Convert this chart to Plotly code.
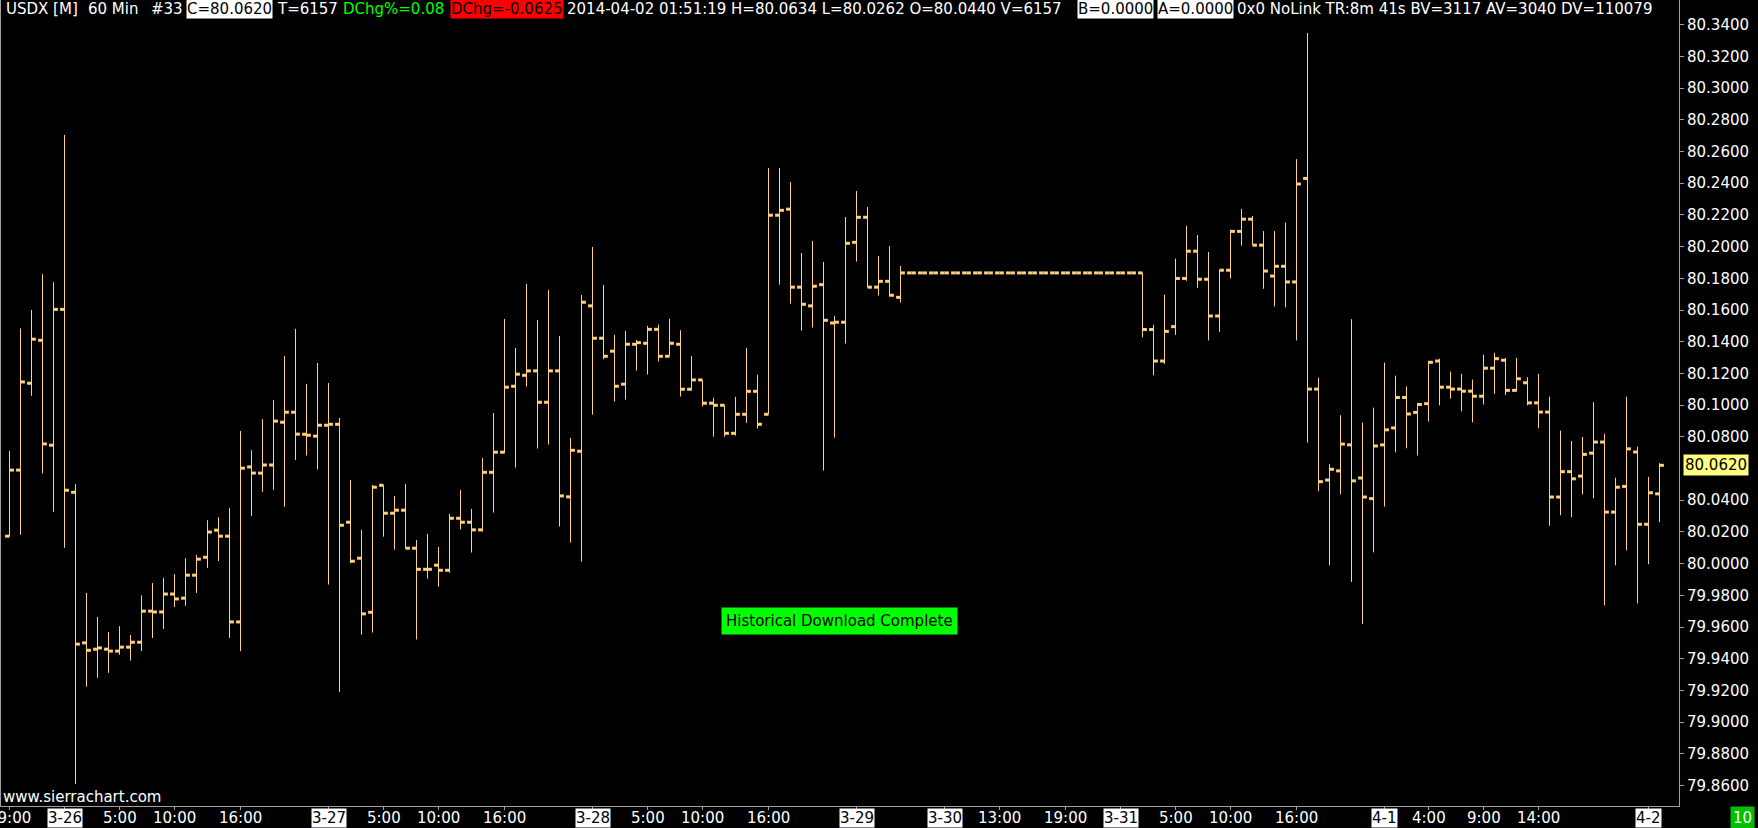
import plotly.graph_objects as go

# ---------------- data (hourly OHLC, USDX) ----------------
opens = [80.0173, 80.0590, 80.1138, 80.1409, 80.0747, 80.1604, 80.0450, 79.9500, 79.9460, 79.9460,
         79.9448, 79.9473, 79.9504, 79.9700, 79.9695, 79.9808, 79.9782, 79.9927, 80.0040, 80.0211,
         80.0173, 79.9632, 80.0610, 80.0571, 80.0622, 80.0892, 80.0955, 80.0816, 80.0804, 80.0873,
         80.0879, 80.0261, 80.0034, 79.9693, 80.0494, 80.0318, 80.0337, 80.0097, 79.9964, 79.9990,
         79.9958, 80.0286, 80.0261, 80.0213, 80.0576, 80.0703, 80.1119, 80.1188, 80.1216, 80.1018,
         80.1216, 80.0421, 80.0709, 80.1626, 80.1422, 80.1340, 80.1132, 80.1384, 80.1390, 80.1478,
         80.1308, 80.1384, 80.1100, 80.1159, 80.1012, 80.0999, 80.0822, 80.0942, 80.1087, 80.0942,
         80.2198, 80.2236, 80.1744, 80.1626, 80.1760, 80.1518, 80.1523, 80.2027, 80.2185, 80.1744,
         80.1781, 80.1680, 80.1834, 80.1834, 80.1834, 80.1834, 80.1834, 80.1834, 80.1834, 80.1834,
         80.1834, 80.1834, 80.1834, 80.1834, 80.1834, 80.1834, 80.1834, 80.1834, 80.1834, 80.1834,
         80.1834, 80.1834, 80.1834, 80.1834, 80.1477, 80.1278, 80.1495, 80.1799, 80.1971, 80.1794,
         80.1562, 80.1851, 80.2096, 80.2173, 80.2009, 80.1814, 80.1876, 80.1777, 80.2430, 80.1101,
         80.0527, 80.0585, 80.0749, 80.0540, 80.0410, 80.0749, 80.0856, 80.1048, 80.0954, 80.1009,
         80.1278, 80.1113, 80.1101, 80.1088, 80.1056, 80.1233, 80.1283, 80.1093, 80.1141, 80.1014,
         80.0956, 80.0420, 80.0580, 80.0552, 80.0697, 80.0767, 80.0325, 80.0487, 80.0704, 80.0248,
         80.0440]
highs = [80.0711, 80.1484, 80.1600, 80.1826, 80.1776, 80.2705, 80.0501, 79.9815, 79.9663, 79.9569,
         79.9605, 79.9550, 79.9800, 79.9878, 79.9910, 79.9934, 80.0035, 80.0054, 80.0274, 80.0293,
         80.0351, 80.0837, 80.0716, 80.0911, 80.1032, 80.1310, 80.1481, 80.1134, 80.1266, 80.1140,
         80.0919, 80.0528, 80.0213, 80.0496, 80.0494, 80.0427, 80.0503, 80.0149, 80.0187, 80.0105,
         80.0314, 80.0465, 80.0345, 80.0667, 80.0950, 80.1544, 80.1361, 80.1765, 80.1537, 80.1727,
         80.1436, 80.0793, 80.1695, 80.1998, 80.1758, 80.1443, 80.1468, 80.1411, 80.1500, 80.1508,
         80.1544, 80.1472, 80.1310, 80.1159, 80.1047, 80.0999, 80.1052, 80.1361, 80.1191, 80.2496,
         80.2496, 80.2408, 80.1960, 80.2036, 80.1903, 80.1563, 80.2187, 80.2351, 80.2250, 80.1941,
         80.2004, 80.1878, 80.1834, 80.1834, 80.1834, 80.1834, 80.1834, 80.1834, 80.1834, 80.1834,
         80.1834, 80.1834, 80.1834, 80.1834, 80.1834, 80.1834, 80.1834, 80.1834, 80.1834, 80.1834,
         80.1834, 80.1834, 80.1834, 80.1834, 80.1507, 80.1697, 80.1924, 80.2131, 80.2073, 80.1966,
         80.1854, 80.2106, 80.2238, 80.2193, 80.2098, 80.2098, 80.2151, 80.2552, 80.3348, 80.1173,
         80.0627, 80.0936, 80.1542, 80.0889, 80.0984, 80.1268, 80.1186, 80.1118, 80.1014, 80.1278,
         80.1293, 80.1211, 80.1198, 80.1161, 80.1318, 80.1330, 80.1298, 80.1298, 80.1176, 80.1198,
         80.1053, 80.0839, 80.0774, 80.0799, 80.1019, 80.0819, 80.0542, 80.1053, 80.0737, 80.0547,
         80.0634]
lows = [80.0173, 80.0182, 80.1059, 80.0569, 80.0327, 80.0100, 79.8610, 79.9224, 79.9279, 79.9311,
        79.9424, 79.9388, 79.9448, 79.9531, 79.9588, 79.9726, 79.9733, 79.9815, 79.9972, 80.0016,
        79.9531, 79.9448, 80.0301, 80.0453, 80.0465, 80.0359, 80.0653, 80.0682, 80.0593, 79.9868,
        79.9190, 80.0003, 79.9552, 79.9565, 80.0170, 80.0088, 80.0097, 79.9521, 79.9906, 79.9855,
        79.9943, 80.0215, 80.0070, 80.0202, 80.0322, 80.0697, 80.0606, 80.1117, 80.0726, 80.0751,
        80.0234, 80.0133, 80.0013, 80.0940, 80.1289, 80.1022, 80.1035, 80.1218, 80.1193, 80.1275,
        80.1308, 80.1054, 80.1092, 80.0991, 80.0801, 80.0801, 80.0808, 80.0888, 80.0852, 80.0942,
        80.1760, 80.1640, 80.1470, 80.1489, 80.0587, 80.0795, 80.1388, 80.1905, 80.1744, 80.1691,
        80.1685, 80.1647, 80.1834, 80.1834, 80.1834, 80.1834, 80.1834, 80.1834, 80.1834, 80.1834,
        80.1834, 80.1834, 80.1834, 80.1834, 80.1834, 80.1834, 80.1834, 80.1834, 80.1834, 80.1834,
        80.1834, 80.1834, 80.1834, 80.1428, 80.1188, 80.1260, 80.1442, 80.1784, 80.1739, 80.1408,
        80.1462, 80.1799, 80.2006, 80.2009, 80.1734, 80.1622, 80.1617, 80.1408, 80.0764, 80.0457,
        79.9989, 80.0437, 79.9884, 79.9619, 80.0071, 80.0360, 80.0702, 80.0727, 80.0682, 80.0896,
        80.0999, 80.1041, 80.0961, 80.0891, 80.1004, 80.1071, 80.1063, 80.1086, 80.0999, 80.0854,
        80.0238, 80.0305, 80.0293, 80.0437, 80.0412, 79.9737, 79.9989, 80.0083, 79.9749, 79.9996,
        80.0262]
closes = [80.0590, 80.1146, 80.1416, 80.0755, 80.1604, 80.0463, 79.9492, 79.9453, 79.9468, 79.9448,
          79.9473, 79.9504, 79.9700, 79.9695, 79.9808, 79.9777, 79.9927, 80.0028, 80.0199, 80.0173,
          79.9632, 80.0602, 80.0571, 80.0622, 80.0899, 80.0955, 80.0817, 80.0810, 80.0873, 80.0879,
          80.0242, 80.0015, 79.9683, 80.0482, 80.0318, 80.0337, 80.0097, 79.9964, 79.9964, 79.9958,
          80.0286, 80.0261, 80.0213, 80.0576, 80.0703, 80.1113, 80.1195, 80.1216, 80.1018, 80.1216,
          80.0427, 80.0715, 80.1649, 80.1422, 80.1308, 80.1119, 80.1384, 80.1394, 80.1478, 80.1308,
          80.1390, 80.1100, 80.1159, 80.1012, 80.0999, 80.0822, 80.0942, 80.1087, 80.0879, 80.2198,
          80.2229, 80.1744, 80.1636, 80.1750, 80.1535, 80.1523, 80.2021, 80.2185, 80.1744, 80.1781,
          80.1693, 80.1834, 80.1834, 80.1834, 80.1834, 80.1834, 80.1834, 80.1834, 80.1834, 80.1834,
          80.1834, 80.1834, 80.1834, 80.1834, 80.1834, 80.1834, 80.1834, 80.1834, 80.1834, 80.1834,
          80.1834, 80.1834, 80.1834, 80.1477, 80.1278, 80.1465, 80.1799, 80.1971, 80.1794, 80.1562,
          80.1851, 80.2096, 80.2173, 80.2009, 80.1846, 80.1876, 80.1777, 80.2395, 80.1101, 80.0517,
          80.0595, 80.0754, 80.0522, 80.0420, 80.0742, 80.0844, 80.1048, 80.0944, 80.1004, 80.1270,
          80.1113, 80.1101, 80.1088, 80.1056, 80.1233, 80.1293, 80.1093, 80.1166, 80.1014, 80.0956,
          80.0420, 80.0580, 80.0535, 80.0689, 80.0767, 80.0325, 80.0482, 80.0724, 80.0248, 80.0447,
          80.0620]

# x-axis time labels (bar index -> label); labels with "-" are date labels
tick_bars = [0, 5, 10, 15, 21, 29, 34, 39, 45, 53, 58, 63, 69, 77, 85, 90, 96,
             101, 106, 111, 117, 125, 129, 134, 139, 149]
tick_labels = ["19:00", "3-26", "5:00", "10:00", "16:00", "3-27", "5:00", "10:00", "16:00",
               "3-28", "5:00", "10:00", "16:00", "3-29", "3-30", "13:00", "19:00", "3-31",
               "5:00", "10:00", "16:00", "4-1", "4:00", "9:00", "14:00", "4-2"]

# price axis labels
price_ticks = [80.34, 80.32, 80.30, 80.28, 80.26, 80.24, 80.22, 80.20, 80.18, 80.16, 80.14,
               80.12, 80.10, 80.08, 80.04, 80.02, 80.00, 79.98, 79.96, 79.94, 79.92,
               79.90, 79.88, 79.86]
price_labels = ["80.3400", "80.3200", "80.3000", "80.2800", "80.2600", "80.2400", "80.2200",
                "80.2000", "80.1800", "80.1600", "80.1400", "80.1200", "80.1000", "80.0800",
                "80.0400", "80.0200", "80.0000", "79.9800", "79.9600", "79.9400", "79.9200",
                "79.9000", "79.8800", "79.8600"]
last_price_label = "80.0620"
last_price = 80.0620

# header fields: (text, left px, text colour, background)
header_parts = [
    ("USDX [M]", 5, "#ffffff", None),
    ("60 Min", 87, "#ffffff", None),
    ("#33", 150, "#ffffff", None),
    ("C=80.0620", 186, "#000000", "#ffffff"),
    ("T=6157", 276, "#ffffff", None),
    ("DChg%=0.08", 342, "#00ff00", None),
    ("DChg=-0.0625", 450, "#000000", "#ff0000"),
    ("2014-04-02 01:51:19 H=80.0634 L=80.0262 O=80.0440 V=6157", 566, "#ffffff", None),
    ("B=0.0000", 1077, "#000000", "#ffffff"),
    ("A=0.0000", 1157, "#000000", "#ffffff"),
    ("0x0 NoLink TR:8m 41s BV=3117 AV=3040 DV=110079", 1236, "#ffffff", None),
]

# ---------------- layout geometry ----------------
W, H = 1758, 828
ML, MR, MT, MB = 0, 79, 0, 22
PW, PH = W - ML - MR, H - MT - MB
BAR_COLOR = "#ffd080"
FONT = "DejaVu Sans"

n = len(opens)
idx = list(range(n))

def px_x(p):
    return p / PW

def px_y(p):
    return (PH - p) / PH

# vertical high-low lines
vx, vy = [], []
for i in idx:
    vx += [i, i, None]
    vy += [lows[i], highs[i], None]

# open (left) / close (right) ticks
tw = 0.40
tx, ty = [], []
for i in idx:
    tx += [i - tw, i, None, i, i + tw, None]
    ty += [opens[i], opens[i], None, closes[i], closes[i], None]

fig = go.Figure()
fig.add_trace(go.Scatter(x=vx, y=vy, mode="lines", line=dict(color=BAR_COLOR, width=1),
                         hoverinfo="skip", showlegend=False))
fig.add_trace(go.Scatter(x=tx, y=ty, mode="lines", line=dict(color=BAR_COLOR, width=3),
                         hoverinfo="skip", showlegend=False))

fig.update_layout(
    width=W, height=H,
    margin=dict(l=ML, r=MR, t=MT, b=MB, pad=0, autoexpand=False),
    paper_bgcolor="#000000", plot_bgcolor="#000000",
    font=dict(family=FONT, size=15, color="#ffffff"),
    showlegend=False,
    xaxis=dict(range=[-9.5 / 11, (PW - 9.5) / 11], showgrid=False, zeroline=False,
               automargin=False,
               showline=True, linecolor="#a0a0a0", linewidth=1,
               tickmode="array", tickvals=tick_bars, ticktext=["" for _ in tick_bars],
               ticks="outside", ticklen=3, tickcolor="#a0a0a0", fixedrange=True),
    yaxis=dict(range=[79.84707, 80.35558], side="right", showgrid=False, zeroline=False,
               automargin=False,
               showline=True, linecolor="#a0a0a0", linewidth=1,
               tickmode="array", tickvals=price_ticks, ticktext=price_labels,
               ticks="outside", ticklen=4, tickcolor="#a0a0a0",
               tickfont=dict(family=FONT, size=15, color="#ffffff"), fixedrange=True),
)

# left border line
fig.add_shape(type="line", xref="paper", yref="paper", x0=0, x1=0, y0=0, y1=1,
              line=dict(color="#a0a0a0", width=2))

annotations = []
# header
for text, left, fg, bg in header_parts:
    a = dict(text=text, xref="paper", yref="paper", x=px_x(left), y=px_y(9),
             xanchor="left", yanchor="middle", showarrow=False,
             font=dict(family=FONT, size=15, color=fg), borderpad=0)
    if bg:
        a["bgcolor"] = bg
    annotations.append(a)

# time-axis labels (dates shown inverted)
for b, t in zip(tick_bars, tick_labels):
    is_date = "-" in t
    a = dict(text=t, xref="x", yref="paper", x=b, y=px_y(818),
             xanchor="center", yanchor="middle", showarrow=False,
             font=dict(family=FONT, size=15, color="#000000" if is_date else "#ffffff"),
             borderpad=0)
    if is_date:
        a["bgcolor"] = "#ffffff"
    annotations.append(a)

# last price marker on the price axis
annotations.append(dict(text=last_price_label, xref="paper", yref="y", x=px_x(1683), y=last_price,
                        xanchor="left", yanchor="middle", showarrow=False,
                        font=dict(family=FONT, size=15, color="#000000"),
                        bgcolor="#ffff80", borderpad=1))

# status message
annotations.append(dict(text="Historical Download Complete", xref="paper", yref="paper",
                        x=px_x(839.5), y=px_y(621), xanchor="center", yanchor="middle",
                        showarrow=False, font=dict(family=FONT, size=15, color="#000000"),
                        bgcolor="#00ff00", borderpad=4))

# watermark
annotations.append(dict(text="www.sierrachart.com", xref="paper", yref="paper",
                        x=px_x(1), y=px_y(797), xanchor="left", yanchor="middle",
                        showarrow=False, font=dict(family=FONT, size=15, color="#ffffff")))

# bottom-right box
annotations.append(dict(text="10", xref="paper", yref="paper", x=px_x(1742.5), y=px_y(818),
                        xanchor="center", yanchor="middle", showarrow=False,
                        font=dict(family=FONT, size=15, color="#ffffff"),
                        bgcolor="#00c000", borderpad=2))

fig.update_layout(annotations=annotations)

fig.write_html("out.html", config={"displayModeBar": False},
               post_script="document.body.style.margin='0';document.body.style.background='#000';")
